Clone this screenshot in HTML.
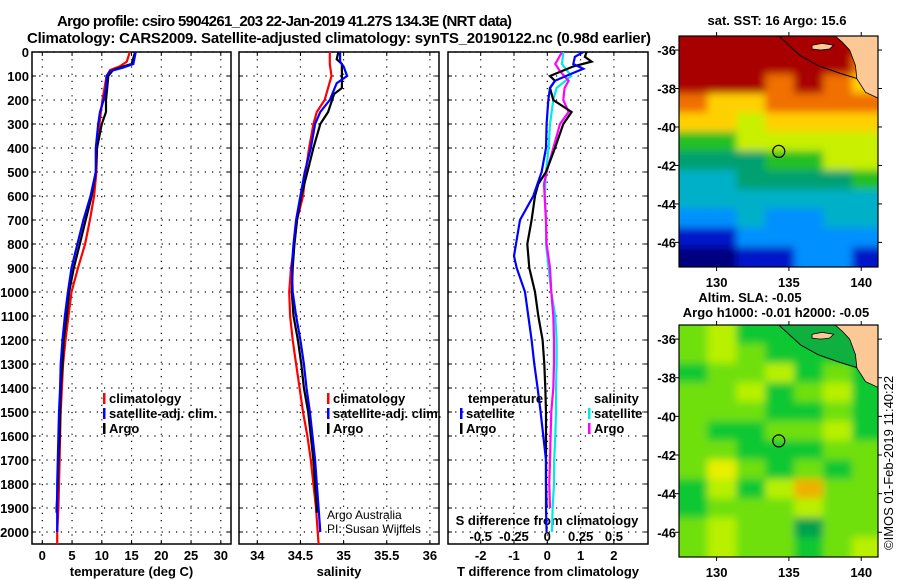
<!DOCTYPE html>
<html><head><meta charset="utf-8"><style>
html,body{margin:0;padding:0;background:#fff}
svg{display:block}
text{font-family:"Liberation Sans",sans-serif}
.b{font-weight:bold;font-size:13px}
</style></head><body>
<svg id="s" width="900" height="580" viewBox="0 0 900 580" xmlns="http://www.w3.org/2000/svg">
<defs>
<clipPath id="c1"><rect x="32" y="52" width="199" height="492"/></clipPath>
<clipPath id="c2"><rect x="239" y="52" width="200" height="492"/></clipPath>
<clipPath id="c3"><rect x="448" y="52" width="200" height="492"/></clipPath>
<clipPath id="cm1"><rect x="679" y="36" width="199" height="231"/></clipPath>
<clipPath id="cm2"><rect x="679" y="325" width="199" height="232"/></clipPath>
<filter id="bl" filterUnits="userSpaceOnUse" x="640" y="0" width="260" height="580"><feGaussianBlur stdDeviation="4"/></filter>
</defs>
<text x="57" y="26" font-size="15" font-weight="bold" textLength="455">Argo profile: csiro 5904261_203 22-Jan-2019 41.27S 134.3E (NRT data)</text>
<text x="27" y="43" font-size="15" font-weight="bold" textLength="624">Climatology: CARS2009. Satellite-adjusted climatology: synTS_20190122.nc (0.98d earlier)</text>
<g id="g"></g>
</svg>
<script>
// ---- data ----
const depthT = [0,50,60,75,100,150,200,250,300,400,500,600,700,800,900,1000,1100,1200,1300,1400,1500,1600,1700,1800,1900,1920];
const tempArgo = [15.6,15.0,13.6,11.9,11.1,10.9,10.7,10.7,10.0,9.2,9.0,8.3,7.3,6.3,5.3,4.5,4.1,3.6,3.4,3.1,3.0,2.9,2.7,2.6,2.4,2.4];
const depthC = [0,40,60,75,100,200,300,400,500,600,700,800,900,1000,1100,1200,1300,1400,1500,1600,1700,1800,1900,2000,2050];
const tempClim = [14.7,14.2,13.0,11.4,10.8,10.1,9.6,9.2,9.1,8.7,8.0,7.2,6.0,4.9,4.4,3.9,3.5,3.3,3.1,3.0,2.9,2.8,2.7,2.5,2.5];
const depthS = [0,50,65,80,100,150,200,250,300,400,500,600,700,800,900,1000,1100,1200,1300,1400,1500,1600,1700,1800,1900,2000];
const tempSat = [15.7,15.3,13.6,11.4,10.8,10.7,10.3,9.7,9.4,9.0,9.0,8.1,6.9,5.9,4.9,4.3,3.8,3.4,3.1,3.0,2.8,2.7,2.6,2.5,2.5,2.5];

const depthSA = [0,30,50,75,100,150,175,250,300,400,500,600,700,800,900,1000,1100,1200,1300,1400,1500,1600,1700,1800,1900,1920];
const salArgo = [34.94,34.92,34.98,34.98,34.98,34.98,34.89,34.82,34.73,34.65,34.58,34.51,34.46,34.43,34.41,34.40,34.42,34.47,34.51,34.54,34.59,34.62,34.65,34.67,34.69,34.69];
const depthSC = [0,50,100,150,200,250,300,400,500,600,700,800,900,1000,1100,1200,1300,1400,1500,1600,1700,1800,1900,2000,2050];
const salClim = [34.84,34.84,34.86,34.82,34.78,34.69,34.65,34.60,34.56,34.53,34.46,34.43,34.39,34.37,34.38,34.41,34.45,34.49,34.53,34.58,34.62,34.65,34.68,34.70,34.71];
const depthSS = [0,40,60,100,130,200,250,300,400,500,600,700,800,900,1000,1100,1200,1300,1400,1500,1600,1700,1800,1900,2000];
const salSat = [34.96,34.96,35.0,35.04,34.92,34.84,34.73,34.67,34.62,34.55,34.50,34.45,34.42,34.40,34.41,34.45,34.50,34.54,34.57,34.61,34.64,34.67,34.69,34.71,34.73];

const depthDB = [0,20,50,70,90,120,150,200,300,400,500,600,700,800,850,900,1000,1100,1200,1300,1400,1500,1600,1700,1800,1900,2000];
const tdiffSat = [1.08,0.83,0.78,1.08,0.73,0.23,0.08,0.03,-0.02,-0.04,-0.17,-0.42,-0.82,-0.94,-1.0,-0.92,-0.67,-0.57,-0.47,-0.39,-0.29,-0.2,-0.12,-0.04,-0.04,-0.04,-0.02];
const depthDK = [0,20,40,60,100,120,150,200,250,300,400,500,550,600,700,800,900,1000,1100,1200,1300,1400,1500,1600,1700,1800,1900];
const tdiffArgo = [1.18,1.13,1.33,0.78,0.08,0.23,0.08,0.18,0.73,0.48,0.23,-0.04,-0.27,-0.37,-0.47,-0.6,-0.54,-0.37,-0.27,-0.14,-0.09,-0.06,-0.04,-0.04,-0.04,-0.04,-0.02];
const depthDC = [0,50,100,150,200,300,400,500,600,700,800,900,1000,1100,1200,1300,1400,1500,1600,1700,1800,1900,2000];
const sdiffSat = [0.12,0.11,0.18,0.07,0.045,0.02,0.01,-0.01,-0.02,-0.01,-0.01,0.01,0.03,0.06,0.07,0.07,0.065,0.065,0.06,0.052,0.05,0.04,0.035];
const depthDM = [0,50,80,120,150,200,250,300,400,500,550,700,800,900,1000,1100,1200,1300,1400,1500,1600,1700,1800,1900];
const sdiffArgo = [0.11,0.06,0.095,0.16,0.13,0.12,0.16,0.095,0.045,-0.005,-0.025,-0.01,-0.005,0.02,0.03,0.045,0.05,0.05,0.045,0.03,0.025,0.02,0.015,0.02];

const depthTicks = [0,100,200,300,400,500,600,700,800,900,1000,1100,1200,1300,1400,1500,1600,1700,1800,1900,2000];
const tTicks = [0,5,10,15,20,25,30];
const sTicks = [34,34.5,35,35.5,36];
const dtTicks = [-2,-1,0,1,2];
const dsTicks = [-0.5,-0.25,0,0.25,0.5];

const sstPalette = ['#00007f','#0018c8','#0090ff','#00b0c8','#00a070','#20c020','#c8f000','#ffd000','#f07000','#a80000'];
const sstGrid = [
[9,9,9,9,9,9,9],[9,9,9,9,9,9,8],[9,9,9,8,9,8,7],[8,7,7,8,8,8,8],
[7,7,6,7,7,7,7],[5,5,6,6,6,6,6],[4,4,4,5,5,6,6],[3,3,4,4,4,4,5],
[3,3,3,3,3,3,3],[2,2,3,2,2,3,3],[1,1,2,2,2,2,2],[0,0,1,1,2,2,1]];
const slaPalette = ['#00a050','#10c830','#70e010','#b8f000','#e8f000','#f0b000'];
const slaGrid = [
[2,3,1,1,1,1,1],[2,3,2,1,1,1,1],[1,2,2,3,1,2,1],[2,2,3,1,2,3,1],
[2,2,2,1,1,2,1],[2,1,1,2,2,3,1],[2,2,1,1,1,2,2],[2,4,2,1,2,1,2],
[1,3,1,3,5,2,2],[1,2,2,2,3,2,2],[2,3,2,2,0,2,2],[2,3,2,2,1,2,3]];
const lonTicks = [130,135,140];
const latTicks = [-36,-38,-40,-42,-44,-46];
const argoLon = 134.3, argoLat = -41.27;

// ---- helpers ----
const NS='http://www.w3.org/2000/svg';
const G=document.getElementById('g');
function el(tag,attrs,parent,txt){const e=document.createElementNS(NS,tag);for(const k in attrs)e.setAttribute(k,attrs[k]);if(txt!==undefined)e.textContent=txt;(parent||G).appendChild(e);return e;}
const yD = d => 52 + d*0.24;
const xT = t => 42.3 + t*5.95;
const xS = s => 257.3 + (s-34)*86.3;
const xDT = t => 547.3 + t*33.3;
const xDS = s => 547.3 + s*133.3;

function panel(x0,w,name,clip,xticks,xf,xlabels,xlabelText){
  const g=el('g',{});
  
  
  depthTicks.forEach(d=>{el('line',{x1:x0,x2:x0+w,y1:yD(d),y2:yD(d),stroke:'#000','stroke-width':1.2,'stroke-dasharray':'1.2 6'},g);
    el('line',{x1:x0,x2:x0+4,y1:yD(d),y2:yD(d),stroke:'#000'},g);el('line',{x1:x0+w-4,x2:x0+w,y1:yD(d),y2:yD(d),stroke:'#000'},g);});
  xticks.forEach(t=>{const x=xf(t);el('line',{x1:x,x2:x,y1:52,y2:544,stroke:'#000','stroke-width':1.2,'stroke-dasharray':'1.2 6'},g);
    el('line',{x1:x,x2:x,y1:540,y2:544,stroke:'#000'},g);el('line',{x1:x,x2:x,y1:52,y2:56,stroke:'#000'},g);
    if(xlabels){const t2=el('text',{x:x,y:560,'text-anchor':'middle',class:'b'},g,String(t));
      
      }});
  el('rect',{x:x0,y:52,width:w,height:492,fill:'none',stroke:'#000','stroke-width':1.5},g);
  const lab=el('text',{x:x0+w/2,y:576,'text-anchor':'middle',class:'b'},g,xlabelText);
  
  
  return g;
}
function line(depths,vals,xf,color,clip,name,w){
  const pts=depths.map((d,i)=>xf(vals[i]).toFixed(1)+','+yD(d).toFixed(1)).join(' ');
  const p=el('polyline',{points:pts,fill:'none',stroke:color,'stroke-width':w||2.2,'clip-path':'url(#'+clip+')'});
  
  
}
function legend(x,y,color,label){
  el('rect',{x:x,y:y-10,width:2.5,height:11,fill:color});
  const t=el('text',{x:x+6,y:y,class:'b'},G,label);
  
  
}

// y tick labels
depthTicks.forEach(d=>{const t=el('text',{x:29,y:yD(d)+5,'text-anchor':'end',class:'b'},G,String(d));
  
  });

// panel 1
panel(32,199,'temperature-panel','c1',tTicks,xT,true,'temperature (deg C)');
line(depthC,tempClim,xT,'#ff0000','c1','temp-climatology-line');
line(depthT,tempArgo,xT,'#000000','c1','temp-argo-line');
line(depthS,tempSat,xT,'#0000ff','c1','temp-satellite-line');
legend(103,403,'#f00','climatology');legend(103,418,'#00f','satellite-adj. clim.');legend(103,433,'#000','Argo');

// panel 2
panel(239,200,'salinity-panel','c2',sTicks,xS,true,'salinity');
line(depthSC,salClim,xS,'#ff0000','c2','sal-climatology-line');
line(depthSA,salArgo,xS,'#000000','c2','sal-argo-line');
line(depthSS,salSat,xS,'#0000ff','c2','sal-satellite-line');
legend(327,403,'#f00','climatology');legend(327,418,'#00f','satellite-adj. clim.');legend(327,433,'#000','Argo');
el('text',{x:327,y:519,'font-size':12},G,'Argo Australia');
el('text',{x:327,y:533,'font-size':12},G,'PI: Susan Wijffels');

// panel 3
panel(448,200,'difference-panel','c3',dtTicks,xDT,true,'T difference from climatology');
dsTicks.forEach(s=>{const t=el('text',{x:xDS(s),y:541,'text-anchor':'middle',class:'b'},G,String(s));
  
  });
el('text',{x:547,y:525,'text-anchor':'middle',class:'b'},G,'S difference from climatology');
line(depthDC,sdiffSat,xDS,'#00e8e8','c3','sdiff-satellite-line');
line(depthDM,sdiffArgo,xDS,'#ff00ff','c3','sdiff-argo-line');
line(depthDK,tdiffArgo,xDT,'#000000','c3','tdiff-argo-line');
line(depthDB,tdiffSat,xDT,'#0000ff','c3','tdiff-satellite-line');
el('text',{x:468,y:403,class:'b'},G,'temperature');
legend(460,418,'#00f','satellite');legend(460,433,'#000','Argo');
el('text',{x:594,y:403,class:'b'},G,'salinity');
legend(588,418,'#00e8e8','satellite');legend(588,433,'#f0f','Argo');

// maps
function map(top,bot,grid,pal,clip,name,shelfFill){
  const lon0=127.4,lon1=141.16,lat0=-35.27,lat1=-47.28;
  const x0=679,x1=878;
  const mx=l=>x0+(l-lon0)/(lon1-lon0)*(x1-x0);
  const my=l=>top+(l-lat0)/(lat1-lat0)*(bot-top);
  const g=el('g',{'clip-path':'url(#'+clip+')'});
  
  
  const h=el('g',{filter:'url(#bl)'},g);
  const nr=grid.length, nc=grid[0].length;
  grid.forEach((row,r)=>row.forEach((v,c)=>{
    let x=mx(lon0+c*2)-0.5, y=my(lat0-r)-0.5;
    let w=mx(lon0+2)-mx(lon0)+1, hh=my(lat0-1)-my(lat0)+1;
    if(c===0){x-=12;w+=12;} if(c===nc-1){w+=12;}
    if(r===0){y-=12;hh+=12;} if(r===nr-1){hh+=12;}
    const cell=el('rect',{x:x,y:y,width:w,height:hh,fill:pal[v]},h);
    
    
  }));
  const sh=[[134.3,-35.27],[135.8,-36.3],[137,-36.8],[138.5,-37.2],[139.8,-37.5],[140.4,-38.2],[141.16,-38.4]];
  if(shelfFill){el('polygon',{points:sh.map(p=>mx(p[0])+','+my(p[1])).join(' ')+' '+mx(141.16)+','+my(-35.27),fill:shelfFill},g);}
  el('polyline',{points:sh.map(p=>mx(p[0])+','+my(p[1])).join(' '),fill:'none',stroke:'#000','stroke-width':1},g);
  const land=[[138.2,-35.27],[141.16,-35.27],[141.16,-38.5],[140.3,-38.2],[139.7,-37.5],[139.6,-36.8],[139.2,-36.0],[138.7,-35.6]];
  el('polygon',{points:land.map(p=>mx(p[0])+','+my(p[1])).join(' '),fill:'#fcc896',stroke:'#000','stroke-width':0.8},g);
  const isl=[[136.6,-35.75],[137.3,-35.65],[138.1,-35.75],[137.8,-35.95],[137.2,-36.0],[136.6,-35.95]];
  el('polygon',{points:isl.map(p=>mx(p[0])+','+my(p[1])).join(' '),fill:'#fcc896',stroke:'#000','stroke-width':0.8},g);
  const c=el('circle',{cx:mx(argoLon),cy:my(argoLat),r:6,fill:'none',stroke:'#000','stroke-width':1.2},G);
  
  
  el('rect',{x:x0,y:top,width:x1-x0,height:bot-top,fill:'none',stroke:'#000','stroke-width':1.2});
  lonTicks.forEach(l=>{el('line',{x1:mx(l),x2:mx(l),y1:top,y2:top-4,stroke:'#000'});el('line',{x1:mx(l),x2:mx(l),y1:bot,y2:bot+4,stroke:'#000'});
    const t=el('text',{x:mx(l),y:bot+20,'text-anchor':'middle',class:'b','font-size':13},G,String(l));
    
    });
  latTicks.forEach(l=>{el('line',{x1:x0,x2:x0-4,y1:my(l),y2:my(l),stroke:'#000'});el('line',{x1:x1,x2:x1+4,y1:my(l),y2:my(l),stroke:'#000'});
    const t=el('text',{x:676,y:my(l)+5,'text-anchor':'end',class:'b'},G,String(l));
    
    });
}
map(36,267,sstGrid,sstPalette,'cm1','sst-map',null);
map(325,557,slaGrid,slaPalette,'cm2','sla-map','#10b040');
el('text',{x:777,y:25,'text-anchor':'middle',class:'b'},G,'sat. SST: 16 Argo: 15.6');
el('text',{x:750,y:302,'text-anchor':'middle',class:'b'},G,'Altim. SLA: -0.05');
el('text',{x:776,y:317,'text-anchor':'middle',class:'b'},G,'Argo h1000: -0.01 h2000: -0.05');
const ts=el('text',{x:0,y:0,'font-size':13,transform:'translate(893,550) rotate(-90)'},G,'©IMOS 01-Feb-2019 11:40:22');


</script>
</body></html>
